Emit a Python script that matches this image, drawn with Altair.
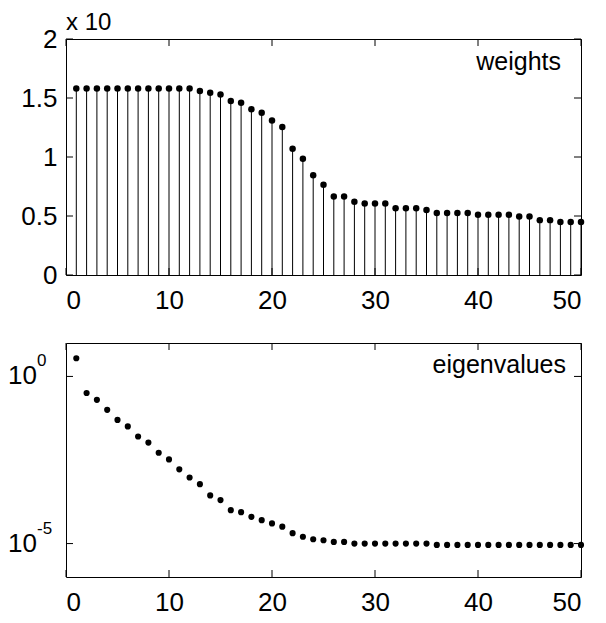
import altair as alt
import pandas as pd

# ---------------- data ----------------
idx = list(range(1, 51))
weights = [1.58, 1.58, 1.58, 1.58, 1.58, 1.58, 1.58, 1.58, 1.58, 1.58, 1.58, 1.58,
           1.56, 1.545, 1.53, 1.475, 1.46, 1.405, 1.375, 1.31, 1.255, 1.07, 0.985,
           0.845, 0.765, 0.665, 0.665, 0.62, 0.605, 0.605, 0.605, 0.565, 0.565, 0.565,
           0.55, 0.525, 0.525, 0.525, 0.525, 0.51, 0.51, 0.51, 0.51, 0.495, 0.495,
           0.465, 0.465, 0.45, 0.45, 0.45]
eigenvalues = [3.5, 0.32, 0.20, 0.10, 0.05, 0.032, 0.016, 0.0105, 0.0052, 0.0033,
               0.00166, 0.00095, 0.0006, 0.000275, 0.0002, 0.0001, 8.7e-5, 6.3e-5,
               5.0e-5, 4.0e-5, 3.2e-5, 2.05e-5, 1.6e-5, 1.35e-5, 1.26e-5, 1.12e-5,
               1.12e-5, 1.0e-5, 1.0e-5, 1.0e-5, 1.0e-5, 1.0e-5, 1.0e-5, 1.0e-5, 1.0e-5,
               9.1e-6, 9.1e-6, 9.1e-6, 9.1e-6, 9.1e-6, 9.1e-6, 9.1e-6, 9.1e-6, 9.1e-6,
               9.1e-6, 9.1e-6, 9.1e-6, 9.1e-6, 9.1e-6, 9.1e-6]
x_ticks = [0, 10, 20, 30, 40, 50]
w_ticks = [0, 0.5, 1, 1.5, 2]
e_ticks = [1, 1e-5]
e_tick_base = ["10", "10"]
e_tick_exp = ["0", "-5"]
panel_labels = ["weights", "eigenvalues"]
multiplier_label = ["x 10"]

# ---------------- style ----------------
FONT = "Liberation Sans"
FS = 26
W, H1, H2 = 515, 236, 234
TL = 7

xs = alt.Scale(domain=[0, 50], nice=False, zero=False)
ys1 = alt.Scale(domain=[0, 2], nice=False, zero=False)
ys2 = alt.Scale(type="log", domain=[1e-6, 10], nice=False)


def xaxis():
    return alt.Axis(values=x_ticks, title=None, ticks=False, domain=False, grid=False,
                    labelFont=FONT, labelFontSize=FS, labelColor="black",
                    labelPadding=12, format="d")


yaxis1 = alt.Axis(values=w_ticks, title=None, ticks=False, domain=False, grid=False,
                  labelFont=FONT, labelFontSize=FS, labelColor="black",
                  labelPadding=9, format="~g")

# ---------------- top panel ----------------
wdf = pd.DataFrame({"x": idx, "y": weights})
stems = alt.Chart(wdf).mark_rule(color="black", strokeWidth=1).encode(
    x=alt.X("x:Q", scale=xs, axis=xaxis()),
    y=alt.Y("y:Q", scale=ys1, axis=yaxis1),
    y2=alt.datum(0),
)
wpts = alt.Chart(wdf).mark_circle(size=42, color="black", opacity=1).encode(
    x="x:Q", y="y:Q"
)
xt = pd.DataFrame({"x": x_ticks})
yt1 = pd.DataFrame({"y": w_ticks})


def xticks(h):
    top = alt.Chart(xt).mark_rule(color="black", strokeWidth=1).encode(
        x="x:Q", y=alt.value(0), y2=alt.value(TL))
    bot = alt.Chart(xt).mark_rule(color="black", strokeWidth=1).encode(
        x="x:Q", y=alt.value(h), y2=alt.value(h - TL))
    return [top, bot]


yt1_l = alt.Chart(yt1).mark_rule(color="black", strokeWidth=1).encode(
    y="y:Q", x=alt.value(0), x2=alt.value(TL))
yt1_r = alt.Chart(yt1).mark_rule(color="black", strokeWidth=1).encode(
    y="y:Q", x=alt.value(W), x2=alt.value(W - TL))

lab1 = alt.Chart(pd.DataFrame({"t": [panel_labels[0]]})).mark_text(
    align="right", baseline="alphabetic", font=FONT, fontSize=25, color="black"
).encode(x=alt.value(W - 20), y=alt.value(31), text="t:N")
mult = alt.Chart(pd.DataFrame({"t": multiplier_label})).mark_text(
    align="left", baseline="alphabetic", font=FONT, fontSize=24, color="black"
).encode(x=alt.value(0), y=alt.value(-9), text="t:N")

top = alt.layer(stems, wpts, *xticks(H1), yt1_l, yt1_r, lab1, mult).properties(
    width=W, height=H1)

# ---------------- bottom panel ----------------
edf = pd.DataFrame({"x": idx, "y": eigenvalues})
epts = alt.Chart(edf).mark_circle(size=38, color="black", opacity=1).encode(
    x=alt.X("x:Q", scale=xs, axis=xaxis()),
    y=alt.Y("y:Q", scale=ys2, axis=None),
)
yt2 = pd.DataFrame({"y": e_ticks, "b": e_tick_base, "e": e_tick_exp})
yt2_l = alt.Chart(yt2).mark_rule(color="black", strokeWidth=1).encode(
    y=alt.Y("y:Q", scale=ys2, axis=None), x=alt.value(0), x2=alt.value(TL))
yt2_r = alt.Chart(yt2).mark_rule(color="black", strokeWidth=1).encode(
    y=alt.Y("y:Q", scale=ys2, axis=None), x=alt.value(W), x2=alt.value(W - TL))
base_lab = alt.Chart(yt2).mark_text(
    align="right", baseline="middle", font=FONT, fontSize=FS, color="black"
).encode(y=alt.Y("y:Q", scale=ys2, axis=None), x=alt.value(-29), text="b:N")
exp_lab = alt.Chart(yt2).mark_text(
    align="left", baseline="alphabetic", dy=-10, font=FONT, fontSize=17, color="black"
).encode(y=alt.Y("y:Q", scale=ys2, axis=None), x=alt.value(-29), text="e:N")
lab2 = alt.Chart(pd.DataFrame({"t": [panel_labels[1]]})).mark_text(
    align="right", baseline="alphabetic", font=FONT, fontSize=25, color="black"
).encode(x=alt.value(W - 15), y=alt.value(30), text="t:N")

bottom = alt.layer(epts, *xticks(H2), yt2_l, yt2_r, base_lab, exp_lab, lab2).properties(
    width=W, height=H2)

chart = alt.vconcat(top, bottom, spacing=68, bounds="flush").configure_view(
    stroke="black", strokeWidth=1
).properties(padding={"left": -1, "top": 2, "right": 5, "bottom": 5})

chart.save("out.html", embed_options={"renderer": "svg", "actions": False})
